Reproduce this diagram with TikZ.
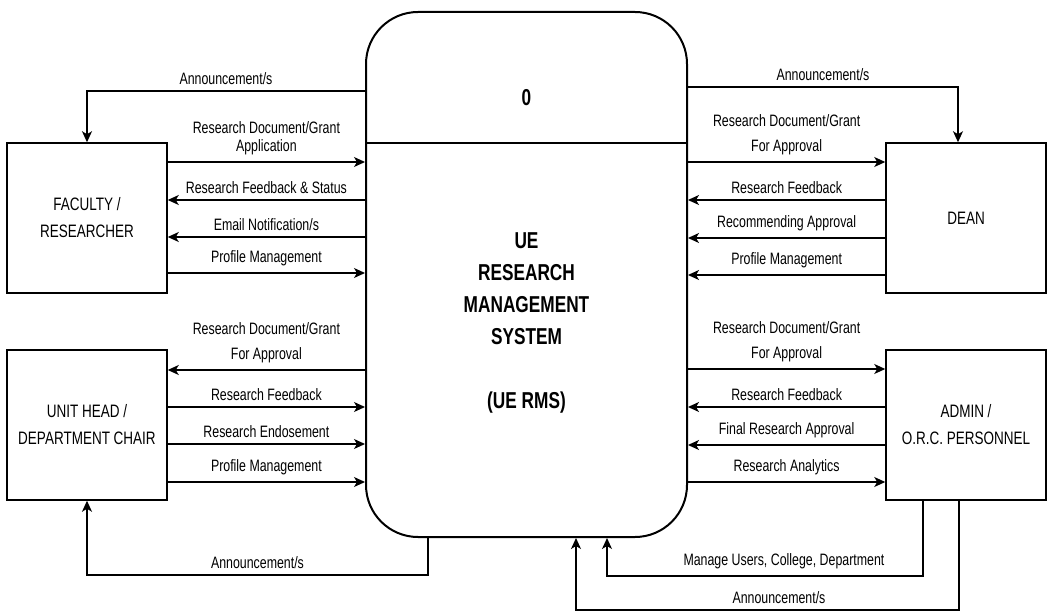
\documentclass[tikz,border=0pt]{standalone}
\usepackage{fontspec}
\setmainfont{Liberation Sans}[FakeStretch=0.75]
\usetikzlibrary{arrows.meta}

\begin{document}
\begin{tikzpicture}[x=1pt, y=-1pt,
  entity/.style={draw, line width=1.5pt, minimum width=160pt, minimum height=150pt,
    align=center, font=\fontsize{18}{27}\selectfont},
  process/.style={draw, line width=2pt, rounded corners=52pt,
    minimum width=321pt, minimum height=525pt},
  flow/.style={line width=1.4pt, -{Stealth[length=11pt, width=10pt, inset=3pt]}},
  lbl/.style={font=\fontsize{16.5}{18}\selectfont, align=center, inner sep=2pt, above=4pt}]
  \path[use as bounding box, fill=white] (0,0) rectangle (1050,612);

  % the process
  \node[process] (sys) at (526.5,274.5) {};
  \draw[line width=1.3pt] (sys.west |- 0,143) -- (sys.east |- 0,143);
  \node[font=\bfseries\fontsize{23}{31}\selectfont] (num) at (526.5,98) {0};
  \node[font=\bfseries\fontsize{23}{32}\selectfont, align=center] (name) at (526.5,323)
    {UE\\RESEARCH\\MANAGEMENT\\SYSTEM\\[32pt](UE RMS)};

  % the entities
  \node[entity] (fac) at (87,218) {FACULTY /\\RESEARCHER};
  \node[entity] (unit) at (87,425) {UNIT HEAD /\\DEPARTMENT CHAIR};
  \node[entity] (dean) at (966,218) {DEAN};
  \node[entity] (admin) at (966,425) {ADMIN /\\O.R.C. PERSONNEL};

  % faculty / researcher
  \draw[flow] (sys.west |- 0,91) -| (fac.north) node[lbl, pos=0.25] (fa) {Announcement/s};
  \draw[flow] (fac.east |- 0,162) -- (sys.west |- 0,162) node[lbl, midway] (f1) {Research Document/Grant\\Application};
  \draw[flow] (sys.west |- 0,200) -- (fac.east |- 0,200) node[lbl, midway] (f2) {Research Feedback \& Status};
  \draw[flow] (sys.west |- 0,237) -- (fac.east |- 0,237) node[lbl, midway] (f3) {Email Notification/s};
  \draw[flow] (fac.east |- 0,273) -- (sys.west |- 0,273) node[lbl, midway] (f4) {Profile Management};

  % unit head / department chair
  \draw[flow] (sys.west |- 0,370) -- (unit.east |- 0,370) node[lbl, midway] (u1) {Research Document/Grant\\[7pt]For Approval};
  \draw[flow] (unit.east |- 0,407) -- (sys.west |- 0,407) node[lbl, midway] (u2) {Research Feedback};
  \draw[flow] (unit.east |- 0,444) -- (sys.west |- 0,444) node[lbl, midway] (u3) {Research Endosement};
  \draw[flow] (unit.east |- 0,482) -- (sys.west |- 0,482) node[lbl, midway] (u4) {Profile Management};
  \coordinate (ua) at (428,575);
  \draw[flow] (sys.south -| ua) -- (ua) -| (unit.south) node[lbl, pos=0.25] (u5) {Announcement/s};

  % dean
  \draw[flow] (sys.east |- 0,87) -| ([xshift=-8pt]dean.north) node[lbl, pos=0.25] (da) {Announcement/s};
  \draw[flow] (sys.east |- 0,162) -- (dean.west |- 0,162) node[lbl, midway] (d1) {Research Document/Grant\\[7pt]For Approval};
  \draw[flow] (dean.west |- 0,200) -- (sys.east |- 0,200) node[lbl, midway] (d2) {Research Feedback};
  \draw[flow] (dean.west |- 0,238) -- (sys.east |- 0,238) node[lbl, midway] (d3) {Recommending Approval};
  \draw[flow] (dean.west |- 0,275) -- (sys.east |- 0,275) node[lbl, midway] (d4) {Profile Management};

  % admin / o.r.c. personnel
  \draw[flow] (sys.east |- 0,369) -- (admin.west |- 0,369) node[lbl, midway] (a1) {Research Document/Grant\\[7pt]For Approval};
  \draw[flow] (admin.west |- 0,407) -- (sys.east |- 0,407) node[lbl, midway] (a2) {Research Feedback};
  \draw[flow] (admin.west |- 0,445) -- (sys.east |- 0,445) node[lbl, midway] (a3) {Final Research Approval};
  \draw[flow] (sys.east |- 0,482) -- (admin.west |- 0,482) node[lbl, midway] (a4) {Research Analytics};
  \coordinate (ma) at (923,576);
  \coordinate (mb) at (607,576);
  \draw[flow] (admin.south -| ma) -- (ma) -- (mb) node[lbl, pos=0.44] (a5) {Manage Users, College, Department} -- (sys.south -| mb);
  \coordinate (aa) at (959,610);
  \coordinate (ab) at (576,610);
  \draw[flow] (admin.south -| aa) -- (aa) -- (ab) node[lbl, pos=0.47] (a6) {Announcement/s} -- (sys.south -| ab);
\end{tikzpicture}
\end{document}
